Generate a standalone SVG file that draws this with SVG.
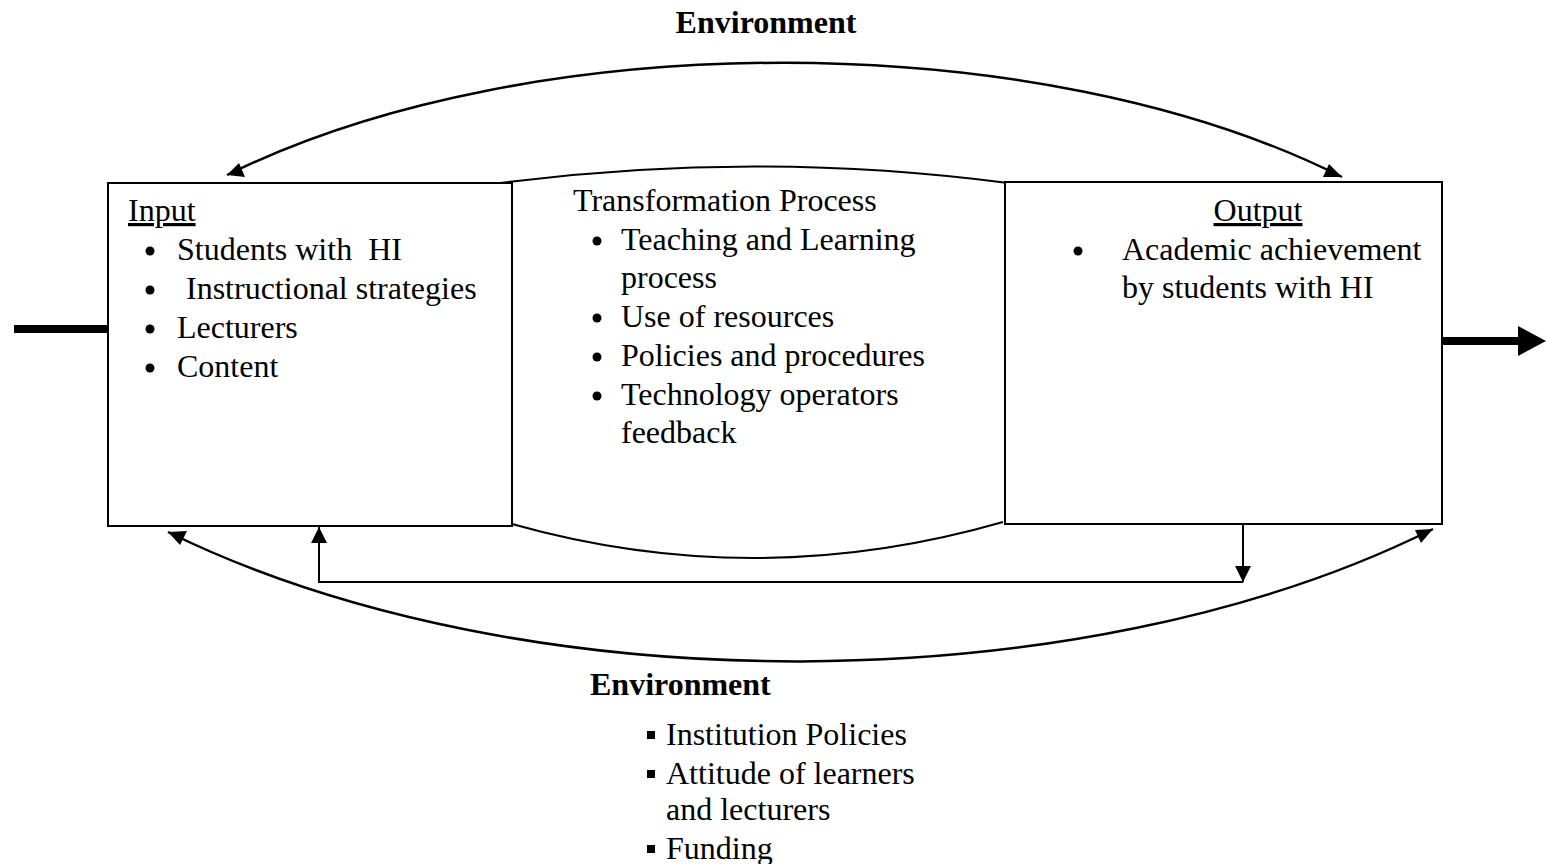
<svg xmlns="http://www.w3.org/2000/svg" width="1547" height="864" viewBox="0 0 1547 864">
  <style>
    text { font-family: "Liberation Serif", "Times New Roman", serif; font-size: 32px; fill: #000; }
    .bold { font-weight: bold; }
    .box { fill: #fff; stroke: #000; stroke-width: 2; }
    .edge { fill: none; stroke: #000; stroke-width: 2; }
    .curve { fill: none; stroke: #000; stroke-width: 2.5; }
  </style>
  <defs>
    <marker id="tri" viewBox="0 0 10 10" refX="10" refY="5" markerWidth="16" markerHeight="16" markerUnits="userSpaceOnUse" orient="auto">
      <path d="M0,0 L10,5 L0,10 z" fill="#000"/>
    </marker>
  </defs>

  <rect width="1547" height="864" fill="#fff"/>

  <!-- heading -->
  <text class="bold" x="766" y="33" text-anchor="middle">Environment</text>

  <!-- transformation process (curved middle shape) -->
  <g id="process">
    <path class="edge" d="M500,183 Q755,150 1008,183"/>
    <path class="edge" d="M512,524 Q757,593 1003,522"/>
    <text x="573" y="211">Transformation Process</text>
    <circle cx="597" cy="241" r="4.5"/><text x="621" y="250">Teaching and Learning</text>
    <text x="621" y="288">process</text>
    <circle cx="597" cy="318" r="4.5"/><text x="621" y="327">Use of resources</text>
    <circle cx="597" cy="357" r="4.5"/><text x="621" y="366">Policies and procedures</text>
    <circle cx="597" cy="396" r="4.5"/><text x="621" y="405">Technology operators</text>
    <text x="621" y="443">feedback</text>
  </g>

  <!-- input box -->
  <g id="input">
    <rect class="box" x="108" y="183" width="404" height="343"/>
    <text x="128" y="221" text-decoration="underline">Input</text>
    <circle cx="150" cy="251" r="4.5"/><text x="177" y="260" xml:space="preserve">Students with  HI</text>
    <circle cx="150" cy="290" r="4.5"/><text x="186" y="299">Instructional strategies</text>
    <circle cx="150" cy="329" r="4.5"/><text x="177" y="338">Lecturers</text>
    <circle cx="150" cy="368" r="4.5"/><text x="177" y="377">Content</text>
  </g>

  <!-- output box -->
  <g id="output">
    <rect class="box" x="1005" y="182" width="437" height="342"/>
    <text x="1258" y="221" text-anchor="middle" text-decoration="underline">Output</text>
    <circle cx="1078" cy="251" r="4.5"/><text x="1122" y="260">Academic achievement</text>
    <text x="1122" y="298">by students with HI</text>
  </g>

  <!-- environment factors -->
  <g id="environment">
    <text class="bold" x="590" y="695">Environment</text>
    <rect x="647" y="731" width="8" height="8"/><text x="666" y="745">Institution Policies</text>
    <rect x="647" y="770" width="8" height="8"/><text x="666" y="784">Attitude of learners</text>
    <text x="666" y="820">and lecturers</text>
    <rect x="647" y="845" width="8" height="8"/><text x="666" y="859">Funding</text>
  </g>

  <!-- connectors -->
  <g id="connectors">
    <!-- system input and output -->
    <line x1="14" y1="329" x2="108" y2="329" stroke="#000" stroke-width="8"/>
    <line x1="1442" y1="341" x2="1522" y2="341" stroke="#000" stroke-width="8"/>
    <path d="M1518,326 L1546,341 L1518,356 z" fill="#000"/>

    <!-- environment arcs -->
    <path class="curve" d="M1342,177 C1040,25 530,25 227,175"/>
    <path class="curve" d="M168,532 C520,705 1080,705 1433,529"/>
    <!-- arrowheads on arc ends -->
    <path d="M227,175 L239,163 L245,177 z" fill="#000"/>
    <path d="M1342,177 L1323,177 L1329,164 z" fill="#000"/>
    <path d="M168,532 L187,531 L180,545 z" fill="#000"/>
    <path d="M1433,529 L1421,543 L1415,530 z" fill="#000"/>

    <!-- feedback loop -->
    <path class="edge" d="M1243,524 L1243,582" marker-end="url(#tri)"/>
    <path class="edge" d="M1243,582 L319,582 L319,527" marker-end="url(#tri)"/>
  </g>
</svg>
